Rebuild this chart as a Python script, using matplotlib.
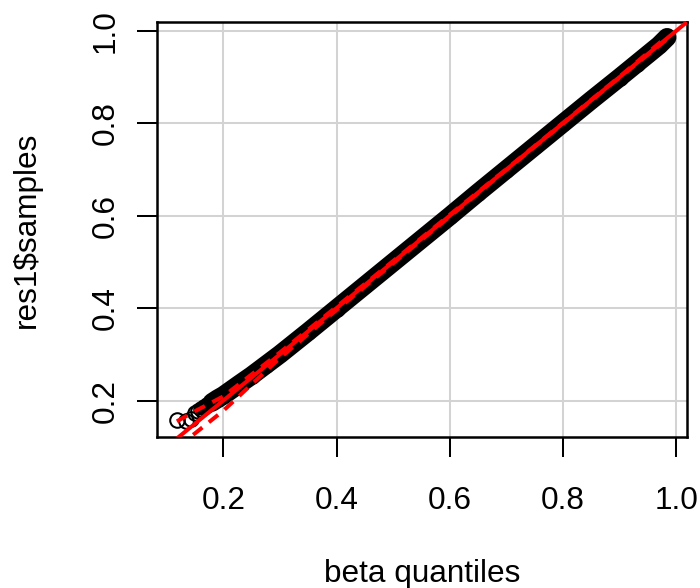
import matplotlib
matplotlib.use("Agg")
import matplotlib.pyplot as plt
import numpy as np

plt.rcParams['font.family'] = ['Liberation Sans', 'DejaVu Sans']
plt.rcParams['lines.scale_dashes'] = False

# Beta theoretical quantiles vs. sorted posterior samples
beta_quantiles = [0.118, 0.134, 0.143, 0.150, 0.155, 0.160, 0.166, 0.172, 0.180,
                  0.190, 0.200, 0.215, 0.230, 0.250, 0.275, 0.300, 0.350, 0.400,
                  0.450, 0.500, 0.550, 0.600, 0.650, 0.700, 0.750, 0.800, 0.850,
                  0.900, 0.930, 0.950, 0.970, 0.984]
samples = [0.158, 0.155, 0.160, 0.172, 0.177, 0.181, 0.186, 0.190, 0.196,
           0.204, 0.211, 0.224, 0.237, 0.254, 0.277, 0.300, 0.349, 0.399,
           0.449, 0.499, 0.549, 0.599, 0.650, 0.700, 0.750, 0.800, 0.850,
           0.899, 0.929, 0.949, 0.969, 0.986]

# Pointwise envelope around the identity line
env_x = [0.118, 0.150, 0.200, 0.300, 0.400, 0.500, 0.600, 0.700, 0.800, 0.900, 0.984]
env_upper = [0.155, 0.177, 0.209, 0.304, 0.403, 0.502, 0.602, 0.701, 0.801, 0.901, 0.988]
env_lower = [0.100, 0.129, 0.178, 0.292, 0.396, 0.497, 0.598, 0.699, 0.799, 0.899, 0.982]

ticks = [0.2, 0.4, 0.6, 0.8, 1.0]
tick_labels = ["0.2", "0.4", "0.6", "0.8", "1.0"]

W, H, DPI = 700, 588, 100
fig = plt.figure(figsize=(W / DPI, H / DPI), dpi=DPI)
L, R, T, B = 157.3, 686.7, 22.0, 436.7
ax = fig.add_axes([L / W, 1 - B / H, (R - L) / W, (B - T) / H])

x = np.asarray(beta_quantiles)
y = np.asarray(samples)
xr = x.max() - x.min()
yr = y.max() - y.min()
ax.set_xlim(x.min() - 0.04 * xr, x.max() + 0.04 * xr)
ax.set_ylim(y.min() - 0.04 * yr, y.max() + 0.04 * yr)

# grid
for t in ticks:
    ax.axvline(t, color='#D3D3D3', lw=1.45, zorder=0)
    ax.axhline(t, color='#D3D3D3', lw=1.45, zorder=0)

# dense part of the sample band: thin near the tail, full width after it
ax.plot(x[5:10], y[5:10], color='black', lw=9.0, solid_capstyle='round',
        solid_joinstyle='round', zorder=2)
ax.plot(x[8:], y[8:], color='black', lw=13.5, solid_capstyle='round',
        solid_joinstyle='round', zorder=2)
ax.plot(x, y, linestyle='none', marker='o', markersize=10.5,
        markerfacecolor='none', markeredgecolor='black', markeredgewidth=1.45,
        zorder=3)

# reference lines
ax.axline((0, 0), (1, 1), color='#FF0000', lw=2.9, zorder=4)
ax.plot(env_x, env_upper, color='#FF0000', lw=2.9, dashes=(8.5, 6), zorder=4)
ax.plot(env_x, env_lower, color='#FF0000', lw=2.9, dashes=(8.5, 6), zorder=4)

fs = 22.7
ax.set_xticks(ticks)
ax.set_xticklabels(tick_labels, fontsize=fs)
ax.set_yticks(ticks)
ax.set_yticklabels(tick_labels, fontsize=fs, rotation=90, va='center')
ax.tick_params(axis='both', length=14.4, width=1.45, color='black')
ax.tick_params(axis='x', pad=21)
ax.tick_params(axis='y', pad=12)

for s in ax.spines.values():
    s.set_linewidth(1.8)

ax.set_xlabel("beta quantiles", fontsize=fs)
ax.set_ylabel("res1$samples", fontsize=fs)
ax.xaxis.set_label_coords(0.5, -0.295)
ax.yaxis.set_label_coords(-0.2186, 0.5)

fig.savefig("out.png", dpi=DPI)
